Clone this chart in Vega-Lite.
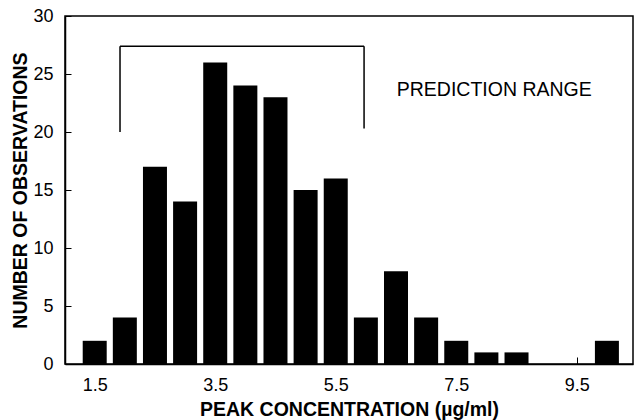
{
  "$schema": "https://vega.github.io/schema/vega-lite/v6.json",
  "width": 568,
  "height": 348,
  "autosize": "none",
  "padding": {"left": 65, "top": 16, "right": 1, "bottom": 56},
  "background": "white",
  "config": {
    "view": {"stroke": "black", "strokeWidth": 1.5},
    "font": "Liberation Sans",
    "axis": {"grid": false, "domainColor": "black", "domainWidth": 1.5, "tickColor": "black", "tickWidth": 1, "labelColor": "black", "titleColor": "black", "labelFontSize": 18, "titleFontSize": 19.5, "titleFontWeight": "bold", "labelFlush": false, "labelOverlap": false}
  },
  "layer": [
    {
      "data": {"values": [
        {"conc": 1.5, "count": 2},
        {"conc": 2.0, "count": 4},
        {"conc": 2.5, "count": 17},
        {"conc": 3.0, "count": 14},
        {"conc": 3.5, "count": 26},
        {"conc": 4.0, "count": 24},
        {"conc": 4.5, "count": 23},
        {"conc": 5.0, "count": 15},
        {"conc": 5.5, "count": 16},
        {"conc": 6.0, "count": 4},
        {"conc": 6.5, "count": 8},
        {"conc": 7.0, "count": 4},
        {"conc": 7.5, "count": 2},
        {"conc": 8.0, "count": 1},
        {"conc": 8.5, "count": 1},
        {"conc": 9.0, "count": 0},
        {"conc": 9.5, "count": 0},
        {"conc": 10.0, "count": 2}
      ]},
      "mark": {"type": "bar", "size": 24, "color": "black"},
      "encoding": {
        "x": {
          "field": "conc", "type": "quantitative",
          "scale": {"domain": [1.09, 10.35], "nice": false, "zero": false},
          "axis": {
            "title": "PEAK CONCENTRATION (µg/ml)",
            "values": [1.5, 2, 2.5, 3, 3.5, 4, 4.5, 5, 5.5, 6, 6.5, 7, 7.5, 8, 8.5, 9, 9.5, 10],
            "format": ".1f",
            "labelExpr": "(datum.value * 2 - 3) % 4 == 0 ? datum.label : ''",
            "tickSize": -7,
            "labelPadding": 19,
            "titleY": 45,
            "titleBaseline": "middle"
          }
        },
        "y": {
          "field": "count", "type": "quantitative",
          "scale": {"domain": [0, 30], "nice": false},
          "axis": {
            "title": "NUMBER OF OBSERVATIONS",
            "values": [0, 2.5, 5, 7.5, 10, 12.5, 15, 17.5, 20, 22.5, 25, 27.5, 30],
            "format": "d",
            "labelExpr": "datum.value % 5 == 0 ? datum.label : ''",
            "tickSize": -6,
            "labelPadding": 18,
            "titleX": -45,
            "titleBaseline": "middle"
          }
        }
      }
    },
    {
      "data": {"values": [
        {"xa": 1.92, "xb": 5.97, "ya": 27.4, "yb": 27.4},
        {"xa": 1.92, "xb": 1.92, "ya": 20.0, "yb": 27.4},
        {"xa": 5.97, "xb": 5.97, "ya": 20.3, "yb": 27.4}
      ]},
      "mark": {"type": "rule", "color": "black", "strokeWidth": 1.5},
      "encoding": {
        "x": {"field": "xa", "type": "quantitative"},
        "x2": {"field": "xb"},
        "y": {"field": "ya", "type": "quantitative"},
        "y2": {"field": "yb"}
      }
    },
    {
      "data": {"values": [{"label": "PREDICTION RANGE", "x": 8.13, "y": 23.6}]},
      "mark": {"type": "text", "fontSize": 19.5, "color": "black", "align": "center", "baseline": "middle"},
      "encoding": {
        "x": {"field": "x", "type": "quantitative"},
        "y": {"field": "y", "type": "quantitative"},
        "text": {"field": "label"}
      }
    }
  ]
}
